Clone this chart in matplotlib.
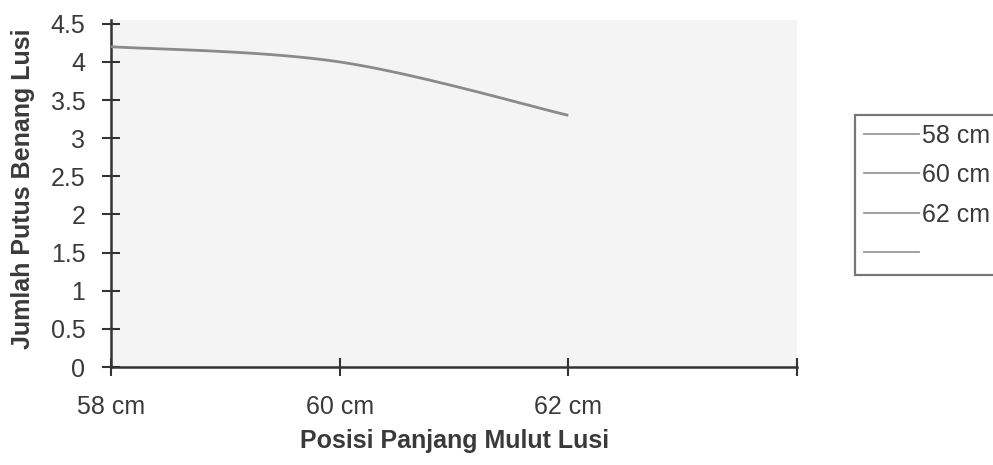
import numpy as np
import matplotlib
matplotlib.use("Agg")
import matplotlib.pyplot as plt
from matplotlib.lines import Line2D

plt.rcParams["font.family"] = ["Liberation Sans", "DejaVu Sans"]

# Category axis (the last slot is left unlabeled)
categories = ["58 cm", "60 cm", "62 cm", ""]
# Legend series names
series_names = ["58 cm", "60 cm", "62 cm", ""]
# Number of broken warp yarns at each position
breaks = [4.2, 4.0, 3.3]
y_ticks = [0, 0.5, 1, 1.5, 2, 2.5, 3, 3.5, 4, 4.5]
y_tick_labels = ["0", "0.5", "1", "1.5", "2", "2.5", "3", "3.5", "4", "4.5"]

W, H = 993, 465
TEXT = "#3a3a3a"
AXIS = "#333333"


def smooth_curve(xs, ys, steps=60):
    """Catmull-Rom style smoothing through the given points (Bezier segments)."""
    p = np.column_stack([xs, ys]).astype(float)
    pts = np.vstack([p[0], p, p[-1]])
    out = []
    t = np.linspace(0, 1, steps)
    for i in range(1, len(pts) - 2):
        p0, p1, p2, p3 = pts[i - 1], pts[i], pts[i + 1], pts[i + 2]
        c1 = p1 + (p2 - p0) / 6.0
        c2 = p2 - (p3 - p1) / 6.0
        seg = ((1 - t) ** 3)[:, None] * p1 + (3 * (1 - t) ** 2 * t)[:, None] * c1 \
            + (3 * (1 - t) * t ** 2)[:, None] * c2 + (t ** 3)[:, None] * p2
        out.append(seg if i == 1 else seg[1:])
    s = np.vstack(out)
    return s[:, 0], s[:, 1]


fig = plt.figure(figsize=(W / 100, H / 100), dpi=100)
fig.patch.set_facecolor("white")

left, right, top, bottom = 111, 797, 20, 367
ax = fig.add_axes([left / W, 1 - bottom / H, (right - left) / W, (bottom - top) / H])
ax.set_facecolor("#f4f4f4")

x_idx = np.arange(len(breaks))
sx, sy = smooth_curve(x_idx, breaks)
ax.plot(sx, sy, color="#8a8a8a", lw=2.0, solid_capstyle="butt", zorder=3)

ax.set_xlim(0, len(categories) - 1)
ax.set_ylim(0, 4.55)
ax.set_xticks(np.arange(len(categories)))
ax.set_xticklabels(categories)
ax.set_yticks(y_ticks)
ax.set_yticklabels(y_tick_labels)

for side in ("top", "right"):
    ax.spines[side].set_visible(False)
for side in ("left", "bottom"):
    ax.spines[side].set_color(AXIS)
    ax.spines[side].set_linewidth(1.8)

ax.tick_params(axis="both", direction="inout", length=13, width=1.5,
               color=AXIS, labelcolor=TEXT, labelsize=18)
ax.tick_params(axis="y", pad=12)
ax.tick_params(axis="x", pad=14)

fig.text(455 / W, 1 - 441 / H, "Posisi Panjang Mulut Lusi", ha="center", va="center",
         fontsize=18, fontweight="bold", color=TEXT)
fig.text(23 / W, 1 - 189 / H, "Jumlah Putus Benang Lusi", ha="center", va="center",
         rotation=90, fontsize=18, fontweight="bold", color=TEXT)

handles = [Line2D([0], [0], color="#9a9a9a", lw=1.3) for _ in series_names]
leg = fig.legend(handles, series_names, loc="upper left",
                 bbox_to_anchor=(855 / W, 1 - 115 / H), frameon=True,
                 fontsize=18, handlelength=2.2, handletextpad=0.15,
                 labelspacing=0.62, borderpad=0.35, borderaxespad=0,
                 fancybox=False, labelcolor=TEXT)
leg.get_frame().set_edgecolor("#555555")
leg.get_frame().set_linewidth(1.6)

fig.savefig("out.png", dpi=100)
